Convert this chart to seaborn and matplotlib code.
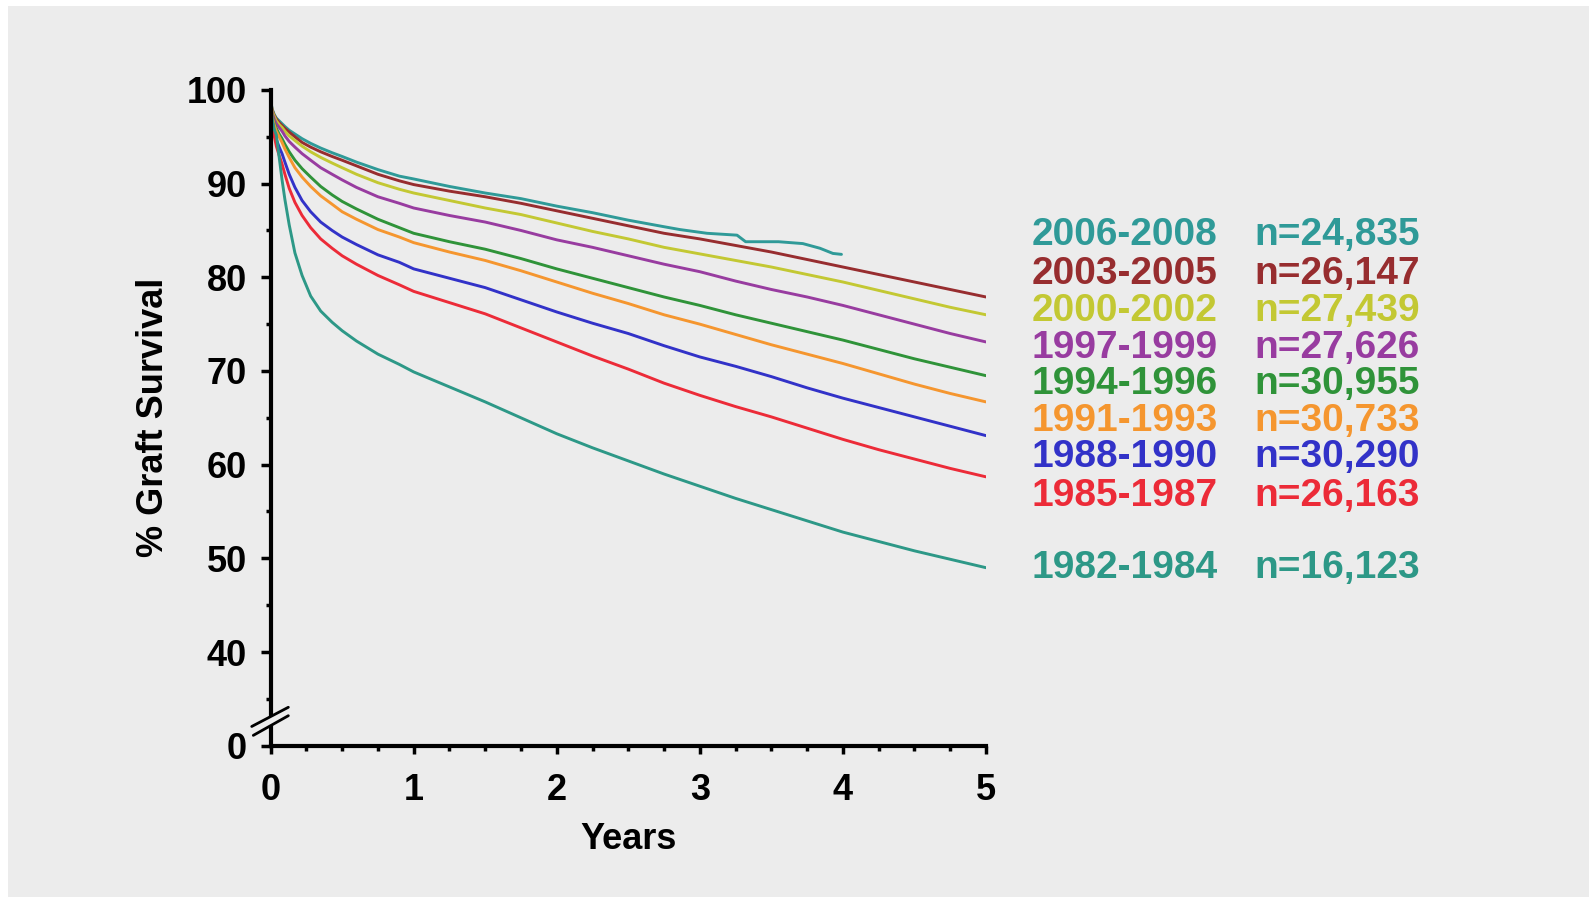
import numpy as np
import pandas as pd
import matplotlib.pyplot as plt
import seaborn as sns
from matplotlib.patches import Rectangle

# cohorts, top to bottom as listed at the right of the chart
PERIODS = ["2006-2008", "2003-2005", "2000-2002", "1997-1999", "1994-1996",
           "1991-1993", "1988-1990", "1985-1987", "1982-1984"]
N_LABELS = ["n=24,835", "n=26,147", "n=27,439", "n=27,626", "n=30,955",
            "n=30,733", "n=30,290", "n=26,163", "n=16,123"]
COLORS = ["#2f9a98", "#972d2f", "#c3c833", "#983ca0", "#2f9339",
          "#f5962f", "#3232c8", "#ec2b38", "#2d9887"]

# years since transplant
YEARS = [0, 0.01, 0.025, 0.04, 0.06, 0.08, 0.1, 0.13, 0.17, 0.22, 0.28, 0.35,
         0.43, 0.5, 0.6, 0.75, 0.9, 1.0, 1.25, 1.5, 1.75, 2.0, 2.25, 2.5,
         2.75, 3.0, 3.25, 3.5, 3.75, 4.0, 4.25, 4.5, 4.75, 5.0]
YEARS_2006 = [0, 0.01, 0.025, 0.04, 0.06, 0.08, 0.1, 0.13, 0.17, 0.22, 0.28, 0.35,
              0.43, 0.5, 0.6, 0.75, 0.9, 1.0, 1.25, 1.5, 1.75, 2.0, 2.25, 2.5,
              2.75, 2.86, 3.05, 3.26, 3.32, 3.55, 3.72, 3.84, 3.93, 3.99]

SURV_2006 = [99.0, 98.0, 97.4, 97.0, 96.7, 96.4, 96.1, 95.7, 95.3, 94.8, 94.3, 93.8,
             93.3, 92.9, 92.3, 91.5, 90.8, 90.5, 89.7, 89.0, 88.4, 87.6, 86.9, 86.1,
             85.4, 85.1, 84.7, 84.5, 83.8, 83.8, 83.6, 83.1, 82.55, 82.45]
SURV_2003 = [99.0, 97.9, 97.3, 96.9, 96.5, 96.2, 95.9, 95.5, 95.0, 94.4, 93.9, 93.4,
             92.9, 92.5, 91.9, 91.0, 90.3, 89.9, 89.2, 88.6, 87.9, 87.1, 86.3, 85.5,
             84.7, 84.1, 83.4, 82.7, 81.9, 81.1, 80.3, 79.5, 78.7, 77.9]
SURV_2000 = [99.0, 97.8, 97.2, 96.7, 96.3, 96.0, 95.6, 95.1, 94.6, 94.0, 93.4, 92.8,
             92.2, 91.7, 91.0, 90.1, 89.4, 89.0, 88.2, 87.4, 86.7, 85.8, 84.9, 84.1,
             83.2, 82.5, 81.8, 81.1, 80.3, 79.5, 78.6, 77.7, 76.8, 76.0]
SURV_1997 = [98.9, 97.6, 96.9, 96.4, 96.0, 95.6, 95.1, 94.5, 93.9, 93.2, 92.5, 91.7,
             91.0, 90.4, 89.6, 88.6, 87.9, 87.4, 86.6, 85.9, 85.0, 84.0, 83.2, 82.3,
             81.4, 80.6, 79.6, 78.7, 77.9, 77.0, 76.0, 75.0, 74.0, 73.1]
SURV_1994 = [98.8, 97.3, 96.5, 95.9, 95.3, 94.8, 94.2, 93.4, 92.5, 91.6, 90.7, 89.7,
             88.8, 88.1, 87.3, 86.2, 85.3, 84.7, 83.8, 83.0, 82.0, 80.9, 79.9, 78.9,
             77.9, 77.0, 76.0, 75.1, 74.2, 73.3, 72.3, 71.3, 70.4, 69.5]
SURV_1991 = [98.7, 97.2, 96.3, 95.6, 95.0, 94.4, 93.7, 92.8, 91.7, 90.7, 89.7, 88.7,
             87.8, 87.0, 86.2, 85.1, 84.3, 83.7, 82.7, 81.8, 80.7, 79.5, 78.3, 77.2,
             76.0, 75.0, 73.9, 72.8, 71.8, 70.8, 69.7, 68.6, 67.6, 66.7]
SURV_1988 = [98.5, 96.8, 95.6, 94.7, 93.9, 93.2, 92.3, 91.0, 89.6, 88.2, 87.0, 85.9,
             85.0, 84.3, 83.5, 82.4, 81.6, 80.9, 79.9, 78.9, 77.6, 76.3, 75.1, 74.0,
             72.7, 71.5, 70.5, 69.4, 68.2, 67.1, 66.1, 65.1, 64.1, 63.1]
SURV_1985 = [98.4, 96.5, 95.1, 94.0, 93.0, 92.1, 91.0, 89.5, 88.0, 86.6, 85.3, 84.1,
             83.1, 82.3, 81.4, 80.2, 79.2, 78.5, 77.3, 76.1, 74.6, 73.1, 71.6, 70.2,
             68.7, 67.4, 66.2, 65.1, 63.9, 62.7, 61.6, 60.6, 59.6, 58.7]
SURV_1982 = [98.3, 97.0, 95.8, 95.2, 92.8, 90.4, 88.3, 85.6, 82.6, 80.2, 78.0, 76.4,
             75.2, 74.3, 73.2, 71.8, 70.7, 69.9, 68.3, 66.7, 65.0, 63.3, 61.8, 60.4,
             59.0, 57.7, 56.4, 55.2, 54.0, 52.8, 51.8, 50.8, 49.9, 49.0]

# broken y axis: the "0" tick sits where 30 would be
Y_TICKS = [30, 40, 50, 60, 70, 80, 90, 100]
Y_TICK_LABELS = ["0", "40", "50", "60", "70", "80", "90", "100"]

BG = "#ececec"

series = [SURV_2006, SURV_2003, SURV_2000, SURV_1997, SURV_1994,
          SURV_1991, SURV_1988, SURV_1985, SURV_1982]
frames = []
for period, surv in zip(PERIODS, series):
    years = YEARS_2006 if period == "2006-2008" else YEARS
    frames.append(pd.DataFrame({"Years": years, "Survival": surv, "Period": period}))
df = pd.concat(frames, ignore_index=True)

sns.set_style("ticks")
plt.rcParams["font.family"] = ["Liberation Sans", "DejaVu Sans"]
plt.rcParams["font.weight"] = "bold"

fig = plt.figure(figsize=(15.89, 8.97), dpi=100)
fig.patch.set_facecolor("white")
fig.patches.append(Rectangle((0.005, 0.0), 0.995, 1 - 6 / 897, transform=fig.transFigure,
                             facecolor=BG, edgecolor="none", zorder=-10))
ax = fig.add_axes([0.1703, 0.1687, 0.4502, 0.7310])
ax.set_facecolor("none")
ax.set_zorder(1)

sns.lineplot(data=df, x="Years", y="Survival", hue="Period", hue_order=PERIODS,
             palette=COLORS, estimator=None, sort=False, linewidth=2.1,
             legend=False, ax=ax)

ax.set_xlim(0, 5)
ax.set_ylim(30, 100)
sns.despine(ax=ax)
for side in ["left", "bottom"]:
    ax.spines[side].set_linewidth(3)
    ax.spines[side].set_color("black")

ax.set_xticks(range(6))
ax.set_xticks(np.arange(0, 5.01, 0.25), minor=True)
ax.set_yticks(Y_TICKS)
ax.set_yticklabels(Y_TICK_LABELS)
ax.set_yticks([35, 45, 55, 65, 75, 85, 95], minor=True)
ax.tick_params(axis="both", which="major", direction="out", width=2.5, color="black",
               labelsize=26, labelcolor="black")
ax.tick_params(axis="x", which="major", length=6, pad=14)
ax.tick_params(axis="y", which="major", length=7, pad=10)
ax.tick_params(axis="both", which="minor", direction="out", width=2.5, length=3.5, color="black")
for lab in ax.get_xticklabels() + ax.get_yticklabels():
    lab.set_fontweight("bold")

ax.set_xlabel("Years", fontsize=26, fontweight="bold", color="black")
ax.set_ylabel("% Graft Survival", fontsize=26, fontweight="bold", color="black")
ax.xaxis.label.set_va("center")
ax.xaxis.set_label_coords(0.5, -0.143)
ax.yaxis.label.set_va("center")
ax.yaxis.set_label_coords(-0.164, 0.5)

# axis break marks
ax.fill([-0.06, 0.124, 0.124, -0.06], [32.7, 34.1, 33.2, 31.7], color=BG,
        clip_on=False, zorder=5, lw=0)
ax.plot([-0.132, 0.124], [32.05, 34.1], color="black", lw=2, clip_on=False, zorder=6)
ax.plot([-0.121, 0.124], [31.1, 33.2], color="black", lw=2, clip_on=False, zorder=6)

# cohort labels at the right
row_y = [235, 273.6, 311, 347.6, 384, 420.6, 457, 495.6, 567.5]
for period, n, col, y in zip(PERIODS, N_LABELS, COLORS, row_y):
    fy = 1 - y / 897
    fig.text(1032 / 1589, fy, period, color=col, fontsize=28, fontweight="bold",
             ha="left", va="center")
    fig.text(1254 / 1589, fy, n, color=col, fontsize=28, fontweight="bold",
             ha="left", va="center")

fig.savefig("out.png", dpi=100, facecolor=fig.get_facecolor())
